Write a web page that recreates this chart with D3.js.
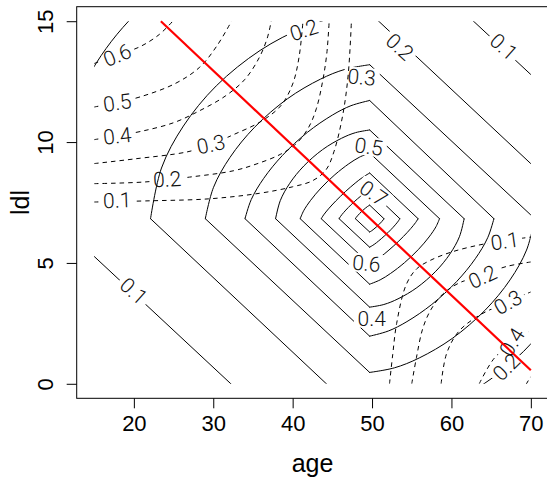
<!DOCTYPE html>
<html>
<head>
<meta charset="utf-8">
<script src="https://cdn.jsdelivr.net/npm/d3@7/dist/d3.min.js"></script>
<style>
  html, body { margin: 0; padding: 0; background: #fff; }
  svg { display: block; }
</style>
</head>
<body>
<svg id="chart" width="547" height="480"></svg>
<script>
// ---- axes ----
const ageTicks = [20, 30, 40, 50, 60, 70];
const ldlTicks = [0, 5, 10, 15];
const ageRange = [15, 70];
const ldlRange = [0, 15];

// ---- solid contours: diamond-like rings around a common centre ----
const solidLevels    = [0.1, 0.2, 0.3, 0.4, 0.5, 0.6, 0.7, 0.8, 0.9];
const solidCentre    = [49.7, 6.83];
const solidLeftAge   = [9.9, 22.1, 29.0, 34.0, 37.85, 40.95, 43.6, 45.85, 47.9];
const solidRightAge  = [89.5, 77.4, 70.5, 65.35, 61.6, 58.5, 55.8, 53.5, 51.5];
const solidTopLdl    = [19.0, 15.35, 13.2, 11.72, 10.5, 9.55, 8.72, 8.02, 7.39];
const solidBottomLdl = [-5.35, -1.68, 0.47, 1.97, 3.17, 4.12, 4.95, 5.65, 6.28];
// rounded sides (upper-left and lower-right): fraction across vs fraction up
const arcU = [1, 0.95, 0.85, 0.7, 0.5, 0.3, 0.15, 0];
const solidArcV = [
  [0, 0.337, 0.554, 0.737, 0.881, 0.961, 0.991, 1],
  [0, 0.246, 0.450, 0.645, 0.817, 0.929, 0.979, 1],
  [0, 0.204, 0.398, 0.594, 0.779, 0.906, 0.970, 1],
  [0, 0.162, 0.341, 0.535, 0.730, 0.876, 0.956, 1],
  [0, 0.204, 0.398, 0.594, 0.779, 0.906, 0.970, 1],
  [0, 0.121, 0.279, 0.467, 0.670, 0.835, 0.934, 1],
  [0, 0.083, 0.215, 0.388, 0.594, 0.778, 0.901, 1],
  [0, 0.083, 0.215, 0.388, 0.594, 0.778, 0.901, 1],
  [0, 0.083, 0.215, 0.388, 0.594, 0.778, 0.901, 1]
];
// label text, age, ldl, angle
const solidLabels = [
  ["0.1", 20.0, 3.84, 42],
  ["0.1", 66.6, 13.95, 42],
  ["0.2", 41.4, 14.64, -18],
  ["0.2", 53.5, 13.95, 42],
  ["0.2", 66.9, 0.70, -45],
  ["0.3", 48.7, 12.69, 5],
  ["0.4", 49.95, 2.71, 0],
  ["0.5", 49.6, 9.82, 8],
  ["0.6", 49.3, 4.99, 5],
  ["0.7", 50.2, 7.89, 35]
];

// ---- dashed contours (upper-left group, then lower-right group) ----
const dashedLevels = [0.1, 0.2, 0.3, 0.4, 0.5, 0.6, 0.1, 0.2, 0.3, 0.4, 0.5];
const dashedLines = [
  [[15,7.52],[22,7.57],[29.4,7.65],[35.8,7.88],[40,8.15],[42.5,8.4],[44.2,8.85],[45.2,9.6],[46.3,11.1],[47.0,12.8],[47.4,15]],
  [[15,8.28],[21.4,8.35],[27,8.55],[32.5,8.81],[35.5,9.1],[38.5,9.5],[40.5,9.95],[42,10.6],[43.0,11.4],[43.8,12.56],[44.3,13.66],[44.6,15]],
  [[15,9.11],[20,9.3],[26.8,9.6],[29.7,9.9],[32.5,10.3],[36,10.85],[38.5,11.5],[40,12.4],[40.8,13.5],[41.3,15]],
  [[15,10.1],[17.9,10.26],[21,10.45],[25,10.8],[28.3,11.3],[31.5,11.9],[34,12.6],[35.8,13.5],[36.8,14.3],[37.3,15]],
  [[15,11.45],[17.9,11.64],[20.8,11.87],[25.2,12.42],[28.3,13.1],[30.5,14.0],[32.3,15]],
  [[15,13.25],[17.9,13.6],[20.8,13.95],[23.2,14.45],[24.9,15]],
  [[52.2,0],[52.6,1.2],[53.1,2.5],[54.3,4.1],[55.6,4.75],[57.3,5.1],[60,5.45],[63.6,5.75],[66.7,5.92],[70,6.07]],
  [[55.0,0],[55.6,1.1],[56.4,2.3],[57.4,3.06],[58.9,3.71],[60.9,4.16],[63.9,4.5],[66.9,4.85],[70,5.04]],
  [[58.7,0],[59.4,1.26],[60.9,2.16],[63.4,2.81],[66.9,3.36],[70,3.8]],
  [[63.5,0],[65.4,1.06],[67.9,1.76],[70,2.2]],
  [[68.9,-0.34],[70,0.28],[71.1,0.56]]
];
const dashedLabels = [
  ["0.6", 17.9, 13.6, -22],
  ["0.5", 17.9, 11.64, -8],
  ["0.4", 17.9, 10.26, -6],
  ["0.3", 29.7, 9.91, -12],
  ["0.2", 24.2, 8.47, -3],
  ["0.1", 17.9, 7.60, -2],
  ["0.1", 66.7, 5.91, -8],
  ["0.2", 63.9, 4.43, -25],
  ["0.3", 67.1, 3.38, -30],
  ["0.4", 67.6, 1.73, -58]
];

// ---- linear boundary ----
const boundaryAge = [23.4, 70];
const boundaryLdl = [15, 0.56];

// ================= drawing =================
const svg = d3.select("#chart");
const plot = { left: 76.7, right: 548.3, top: 6.7, bottom: 398.3 };
const x = d3.scaleLinear().domain([12.8, 72.2]).range([plot.left, plot.right]);
const y = d3.scaleLinear().domain([-0.6, 15.6]).range([plot.bottom, plot.top]);

const labelFont = "Roboto, 'Open Sans', sans-serif";
const labelSize = 21;
const labelW = labelSize * 1.4, labelH = labelSize * 0.8;

const defs = svg.append("defs");
defs.append("clipPath").attr("id", "gridClip")
  .append("rect")
  .attr("x", x(ageRange[0])).attr("y", y(ldlRange[1]))
  .attr("width", x(ageRange[1]) - x(ageRange[0]))
  .attr("height", y(ldlRange[0]) - y(ldlRange[1]));

// each label breaks its own family's line underneath it
function gapMask(id, labels) {
  const m = defs.append("mask").attr("id", id)
    .attr("maskUnits", "userSpaceOnUse")
    .attr("x", 0).attr("y", 0).attr("width", 547).attr("height", 480);
  m.append("rect").attr("width", 547).attr("height", 480).attr("fill", "#fff");
  labels.forEach(([t, a, l, ang]) => {
    m.append("rect")
      .attr("x", -labelW / 2 - 3).attr("y", -labelH / 2 - 1)
      .attr("width", labelW + 6).attr("height", labelH + 2)
      .attr("fill", "#000")
      .attr("transform", `translate(${x(a)},${y(l)}) rotate(${ang})`);
  });
}
gapMask("solidGap", solidLabels);
gapMask("dashedGap", dashedLabels);

const curved = d3.line().x(d => x(d[0])).y(d => y(d[1])).curve(d3.curveCatmullRom.alpha(0.5));
const straight = d3.line().x(d => x(d[0])).y(d => y(d[1]));

// solid rings
const solidG = svg.append("g").attr("clip-path", "url(#gridClip)")
  .append("g").attr("mask", "url(#solidGap)")
  .attr("fill", "none").attr("stroke", "#000").attr("stroke-width", 1)
  .attr("stroke-linejoin", "round").attr("stroke-linecap", "round");

solidLevels.forEach((lev, i) => {
  const [ca, cl] = solidCentre;
  const aL = solidLeftAge[i], aR = solidRightAge[i];
  const lT = solidTopLdl[i], lB = solidBottomLdl[i];
  const v = solidArcV[i];
  const upperLeft = arcU.map((u, j) => [ca - u * (ca - aL), cl + v[j] * (lT - cl)]);
  const lowerRight = arcU.map((u, j) => [ca + u * (aR - ca), cl - v[j] * (cl - lB)]);
  solidG.append("path").attr("d", curved(upperLeft));
  solidG.append("path").attr("d", curved(lowerRight));
  solidG.append("path").attr("d", straight([[ca, lT], [aR, cl]]));
  solidG.append("path").attr("d", straight([[aL, cl], [ca, lB]]));
});

function drawLabels(labels) {
  const g = svg.append("g");
  labels.forEach(([t, a, l, ang]) => {
    g.append("text")
      .attr("transform", `translate(${x(a)},${y(l)}) rotate(${ang})`)
      .attr("text-anchor", "middle").attr("dy", "0.36em")
      .attr("font-family", labelFont).attr("font-size", labelSize)
      .attr("font-weight", 300)
      .attr("fill", "#111")
      .text(t);
  });
}
drawLabels(solidLabels);

// dashed curves
const dashedG = svg.append("g").attr("clip-path", "url(#gridClip)")
  .append("g").attr("mask", "url(#dashedGap)")
  .attr("fill", "none").attr("stroke", "#000").attr("stroke-width", 1)
  .attr("stroke-dasharray", "4.5,4");
dashedLines.forEach(pts => dashedG.append("path").attr("d", curved(pts)));
drawLabels(dashedLabels);

// boundary line
svg.append("line")
  .attr("x1", x(boundaryAge[0])).attr("y1", y(boundaryLdl[0]))
  .attr("x2", x(boundaryAge[1])).attr("y2", y(boundaryLdl[1]))
  .attr("stroke", "#ff0000").attr("stroke-width", 2.2);

// frame
svg.append("rect")
  .attr("x", plot.left).attr("y", plot.top)
  .attr("width", plot.right - plot.left).attr("height", plot.bottom - plot.top)
  .attr("fill", "none").attr("stroke", "#000").attr("stroke-width", 1);

const tickFont = "'Liberation Sans', Arial, Helvetica, sans-serif";

const xAxis = svg.append("g").attr("transform", `translate(0,${plot.bottom})`)
  .call(d3.axisBottom(x).tickValues(ageTicks).tickSizeInner(10).tickSizeOuter(0).tickPadding(7.5));
xAxis.select(".domain").remove();
xAxis.selectAll("line").attr("stroke", "#000");
xAxis.selectAll("text").attr("font-family", tickFont).attr("font-size", 22).attr("fill", "#000");

const yAxis = svg.append("g").attr("transform", `translate(${plot.left},0)`)
  .call(d3.axisLeft(y).tickValues(ldlTicks).tickSizeInner(10).tickSizeOuter(0));
yAxis.select(".domain").remove();
yAxis.selectAll("line").attr("stroke", "#000");
yAxis.selectAll("text")
  .attr("font-family", tickFont).attr("font-size", 22).attr("fill", "#000")
  .attr("text-anchor", "middle")
  .attr("x", 0).attr("y", -23.5).attr("dy", 0)
  .attr("transform", "rotate(-90)");

svg.append("text")
  .attr("x", (plot.left + plot.right) / 2).attr("y", 472)
  .attr("text-anchor", "middle")
  .attr("font-family", tickFont).attr("font-size", 25).attr("fill", "#000")
  .text("age");

svg.append("text")
  .attr("transform", `translate(29,${(plot.top + plot.bottom) / 2}) rotate(-90)`)
  .attr("text-anchor", "middle")
  .attr("font-family", tickFont).attr("font-size", 25).attr("fill", "#000")
  .text("ldl");
</script>
</body>
</html>
